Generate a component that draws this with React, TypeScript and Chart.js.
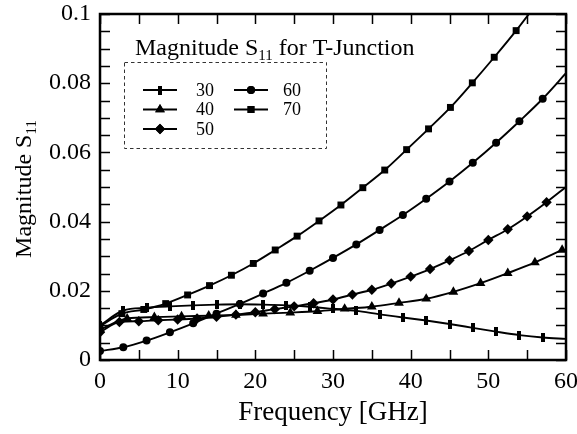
import React, { useEffect, useRef } from 'react';
import { Chart, registerables } from 'chart.js';
import { drawPoint } from 'chart.js/helpers';

Chart.register(...registerables);

// ---- data ----
const seriesLabels = ['30', '40', '50', '60', '70'];

const freq30 = [0, 3, 6, 9, 12, 15, 18, 21, 24, 27, 30, 33, 36, 39, 42, 45, 48, 51, 54, 57, 60];
const mag30 = [0.01, 0.0143, 0.0151, 0.0155, 0.0158, 0.016, 0.0161, 0.016, 0.0158, 0.0154, 0.0148, 0.0142, 0.0132, 0.0123, 0.0114, 0.0104, 0.0093, 0.0082, 0.0072, 0.0065, 0.0061];

const freq40 = [0, 3.5, 7, 10.5, 14, 17.5, 21, 24.5, 28, 31.5, 35, 38.5, 42, 45.5, 49, 52.5, 56, 59.5];
const mag40 = [0.0088, 0.012, 0.0124, 0.0126, 0.0128, 0.013, 0.0134, 0.0137, 0.0141, 0.0148, 0.0154, 0.0165, 0.0177, 0.0197, 0.0222, 0.0251, 0.0282, 0.0318];

const freq50 = [0, 2.5, 5, 7.5, 10, 12.5, 15, 17.5, 20, 22.5, 25, 27.5, 30, 32.5, 35, 37.5, 40, 42.5, 45, 47.5, 50, 52.5, 55, 57.5, 60];
const mag50 = [0.008, 0.011, 0.0112, 0.0115, 0.0117, 0.012, 0.0125, 0.0131, 0.0138, 0.0147, 0.0155, 0.0164, 0.0175, 0.0189, 0.0203, 0.0221, 0.0241, 0.0263, 0.0288, 0.0315, 0.0347, 0.0378, 0.0415, 0.0456, 0.05];

const freq60 = [0, 3, 6, 9, 12, 15, 18, 21, 24, 27, 30, 33, 36, 39, 42, 45, 48, 51, 54, 57, 60];
const mag60 = [0.0026, 0.0037, 0.0056, 0.008, 0.0106, 0.0134, 0.0162, 0.0192, 0.0223, 0.0258, 0.0295, 0.0334, 0.0376, 0.0419, 0.0466, 0.0516, 0.057, 0.0628, 0.069, 0.0755, 0.0829];

const freq70 = [0, 2.82, 5.64, 8.46, 11.28, 14.1, 16.92, 19.74, 22.56, 25.38, 28.2, 31.02, 33.84, 36.66, 39.48, 42.3, 45.12, 47.94, 50.76, 53.58, 56.4];
const mag70 = [0.0098, 0.0134, 0.0146, 0.0163, 0.0188, 0.0215, 0.0245, 0.0279, 0.0318, 0.0358, 0.0402, 0.0448, 0.0498, 0.0549, 0.0608, 0.0668, 0.073, 0.0801, 0.0875, 0.0952, 0.1035];

const xTickValues = [0, 10, 20, 30, 40, 50, 60];
const yTickValues = [0, 0.02, 0.04, 0.06, 0.08, 0.1];
const yTickLabels = ['0', '0.02', '0.04', '0.06', '0.08', '0.1'];
const xMinorStep = 5;
const yMinorStep = 0.005;

const chartTitle = ['Magnitude S', '11', ' for T-Junction'];
const yTitle = ['Magnitude S', '11', ''];
const xTitle = 'Frequency [GHz]';

const FONT = "'Liberation Serif', 'DejaVu Serif', serif";

function drawSubText(ctx: CanvasRenderingContext2D, parts: string[], x: number, y: number, size: number, subSize: number) {
  ctx.font = `${size}px ${FONT}`;
  ctx.fillText(parts[0], x, y);
  let w = ctx.measureText(parts[0]).width;
  ctx.font = `${subSize}px ${FONT}`;
  ctx.fillText(parts[1], x + w, y + size * 0.2);
  w += ctx.measureText(parts[1]).width;
  ctx.font = `${size}px ${FONT}`;
  ctx.fillText(parts[2], x + w, y);
}
function measureSubText(ctx: CanvasRenderingContext2D, parts: string[], size: number, subSize: number) {
  ctx.font = `${size}px ${FONT}`;
  let w = ctx.measureText(parts[0]).width + ctx.measureText(parts[2]).width;
  ctx.font = `${subSize}px ${FONT}`;
  w += ctx.measureText(parts[1]).width;
  return w;
}

export default function App() {
  const ref = useRef<HTMLCanvasElement>(null);

  useEffect(() => {
    const bar = document.createElement('canvas');
    bar.width = 4;
    bar.height = 9;
    const bctx = bar.getContext('2d')!;
    bctx.fillStyle = '#000';
    bctx.fillRect(0, 0, 4, 9);

    const styles: any[] = [bar, 'triangle', 'rectRot', 'circle', 'rect'];
    const radii = [4, 5.6, 5.2, 4, 4.9];
    const xs = [freq30, freq40, freq50, freq60, freq70];
    const ys = [mag30, mag40, mag50, mag60, mag70];
    const noEndMarker = [true, false, true, true, false];

    const datasets = seriesLabels.map((lab, i) => ({
      label: lab,
      data: xs[i].map((x, j) => ({ x, y: ys[i][j] })),
      borderColor: '#000',
      backgroundColor: '#000',
      borderWidth: 1.9,
      pointStyle: styles[i],
      pointRadius: (c: any) => (noEndMarker[i] && c.dataIndex === xs[i].length - 1 ? 0 : radii[i]),
      pointBorderWidth: 0,
      pointBackgroundColor: '#000',
      cubicInterpolationMode: 'monotone' as const,
      fill: false,
    }));

    const framePlugin = {
      id: 'frame',
      afterDatasetsDraw(chart: any) {
        const { ctx, chartArea: a, scales } = chart;
        const xsc = scales.x;
        const ysc = scales.y;
        ctx.save();
        ctx.strokeStyle = '#000';
        ctx.lineWidth = 1.5;
        const tl = 10;
        ctx.beginPath();
        for (let k = 0; k <= 12; k++) {
          const px = Math.round(xsc.getPixelForValue(k * xMinorStep)) + 0.5;
          ctx.moveTo(px, a.bottom);
          ctx.lineTo(px, a.bottom - tl);
          ctx.moveTo(px, a.top);
          ctx.lineTo(px, a.top + tl);
        }
        for (let k = 0; k <= 20; k++) {
          const py = Math.round(ysc.getPixelForValue(k * yMinorStep)) + 0.5;
          ctx.moveTo(a.left, py);
          ctx.lineTo(a.left + tl, py);
          ctx.moveTo(a.right, py);
          ctx.lineTo(a.right - tl, py);
        }
        ctx.stroke();
        ctx.lineWidth = 2.5;
        ctx.strokeRect(a.left, a.top, a.right - a.left, a.bottom - a.top);

        // in-plot title
        ctx.fillStyle = '#000';
        ctx.textAlign = 'left';
        ctx.textBaseline = 'alphabetic';
        drawSubText(ctx, chartTitle, 135, 55, 24, 15);

        // legend box
        ctx.setLineDash([3.5, 3]);
        ctx.lineWidth = 1;
        ctx.strokeStyle = '#333';
        ctx.strokeRect(124.5, 62.5, 202, 86);
        ctx.setLineDash([]);
        const rows = [90, 109.5, 129];
        const cols = [
          { l0: 143, l1: 177, t: 196 },
          { l0: 234, l1: 268, t: 283 },
        ];
        ctx.textBaseline = 'middle';
        chart.data.datasets.forEach((ds: any, i: number) => {
          const col = cols[i < 3 ? 0 : 1];
          const y = rows[i < 3 ? i : i - 3];
          ctx.strokeStyle = '#000';
          ctx.lineWidth = 1.9;
          ctx.beginPath();
          ctx.moveTo(col.l0, y);
          ctx.lineTo(col.l1, y);
          ctx.stroke();
          ctx.fillStyle = '#000';
          drawPoint(ctx, { pointStyle: ds.pointStyle, radius: radii[i], borderWidth: 0, rotation: 0 } as any, (col.l0 + col.l1) / 2, y);
          ctx.fill();
          ctx.font = `18px ${FONT}`;
          ctx.fillText(ds.label, col.t, y + 1);
        });

        // y axis title
        ctx.save();
        const cy = (a.top + a.bottom) / 2 + 2;
        ctx.translate(31, cy);
        ctx.rotate(-Math.PI / 2);
        ctx.textBaseline = 'alphabetic';
        const w = measureSubText(ctx, yTitle, 24, 15);
        drawSubText(ctx, yTitle, -w / 2, 0, 24, 15);
        ctx.restore();
        ctx.restore();
      },
    };

    const chart = new Chart(ref.current!, {
      type: 'line',
      data: { datasets },
      options: {
        responsive: false,
        animation: false,
        devicePixelRatio: 1,
        layout: { padding: { top: 14, right: 11, left: 0, bottom: 0 } },
        plugins: { legend: { display: false }, tooltip: { enabled: false } },
        scales: {
          x: {
            type: 'linear',
            min: 0,
            max: 60,
            afterBuildTicks: (s: any) => {
              s.ticks = xTickValues.map((v) => ({ value: v }));
            },
            afterFit: (s: any) => {
              s.height = 74;
              s.paddingLeft = 0;
              s.paddingRight = 0;
            },
            ticks: { color: '#000', font: { family: FONT, size: 24 }, padding: 7, maxRotation: 0, autoSkip: false },
            grid: { display: false, drawTicks: false },
            border: { display: false },
            title: { display: true, text: xTitle, color: '#000', font: { family: FONT, size: 27 }, padding: { top: 0, bottom: 5 } },
          },
          y: {
            type: 'linear',
            min: 0,
            max: 0.1,
            afterBuildTicks: (s: any) => {
              s.ticks = yTickValues.map((v) => ({ value: v }));
            },
            afterFit: (s: any) => {
              s.width = 100;
              s.paddingTop = 0;
              s.paddingBottom = 0;
            },
            ticks: {
              color: '#000',
              font: { family: FONT, size: 24 },
              padding: 9,
              autoSkip: false,
              callback: (_v: any, i: number) => yTickLabels[i],
            },
            grid: { display: false, drawTicks: false },
            border: { display: false },
          },
        },
      },
      plugins: [framePlugin],
    } as any);
    return () => chart.destroy();
  }, []);

  return (
    <div style={{ position: 'fixed', left: 0, top: 0, width: 577, height: 434, background: '#fff' }}>
      <canvas ref={ref} width={577} height={434} style={{ display: 'block', width: 577, height: 434 }} />
    </div>
  );
}
